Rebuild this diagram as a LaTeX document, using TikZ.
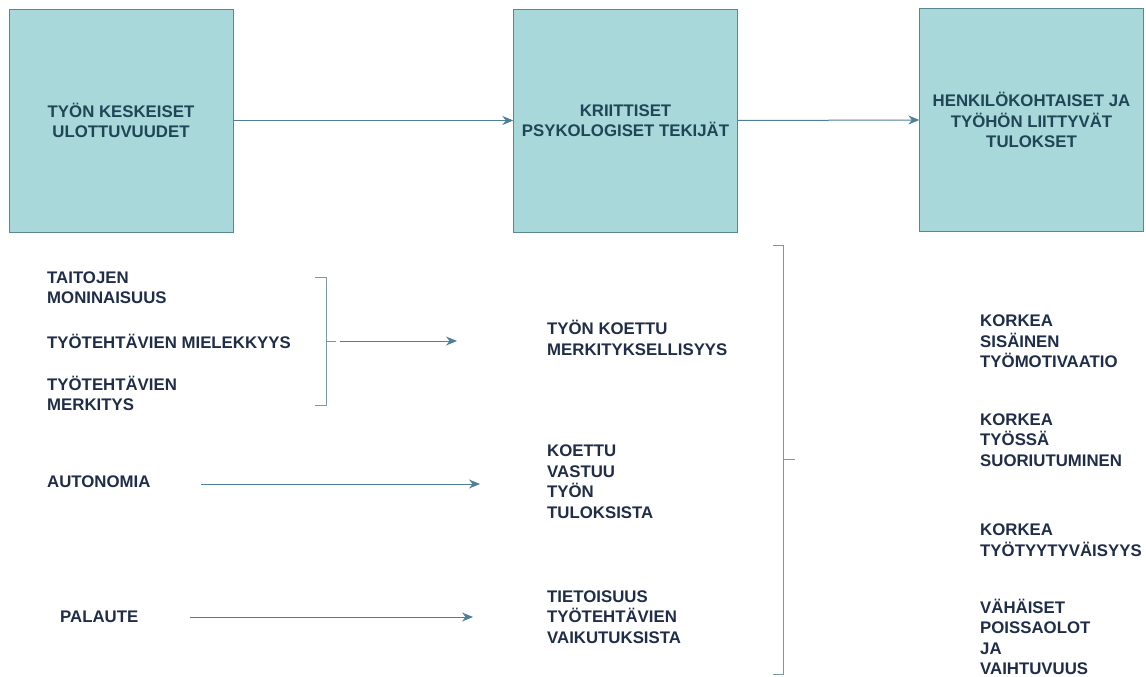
\documentclass[tikz,border=0pt]{standalone}
\usepackage{fontspec}
\setmainfont{Liberation Sans}
\usetikzlibrary{arrows.meta}
\definecolor{boxfill}{HTML}{A8D8DA}
\definecolor{boxline}{HTML}{5A8794}
\definecolor{arrowcol}{HTML}{4F7E97}
\definecolor{bracketcol}{HTML}{7C98A3}
\definecolor{textcol}{HTML}{1F2D48}
\definecolor{boxtext}{HTML}{1F4557}

\begin{document}
\begin{tikzpicture}[x=1pt,y=-1pt,
  box/.style={draw=boxline,fill=boxfill,minimum width=224pt,minimum height=223pt,align=center,text=boxtext,font=\fontsize{16.8}{20.5}\selectfont\bfseries},
  item/.style={anchor=west,inner sep=0pt,align=left,text=textcol,font=\fontsize{16.8}{20.5}\selectfont\bfseries},
  flow/.style={-{Stealth[length=11pt,width=9pt]},arrowcol,line width=1pt},
  bracket/.style={bracketcol,line width=0.9pt}]
\useasboundingbox (0,0) rectangle (1146,677);

% Main boxes
\node[box] (dims) at (121,120.5) {TYÖN KESKEISET\\ULOTTUVUUDET};
\node[box] (krit) at (625.5,120.5) {KRIITTISET\\PSYKOLOGISET TEKIJÄT};
\node[box] (tulos) at (1031.5,120) {HENKILÖKOHTAISET JA\\TYÖHÖN LIITTYVÄT\\TULOKSET};
\draw[flow] (dims.east) -- (krit.west);
\draw[flow] (krit.east) -- (tulos.west);

% Job dimensions
\node[item] (taito) at (47,287.5) {TAITOJEN\\MONINAISUUS};
\node[item] (miel) at (47,341) {TYÖTEHTÄVIEN MIELEKKYYS};
\node[item] (merk) at (47,393.5) {TYÖTEHTÄVIEN\\MERKITYS};
\node[item] (auto) at (47,482) {AUTONOMIA};
\node[item] (pal) at (60,617) {PALAUTE};

% Psychological states
\node[item] (koettu) at (547,338) {TYÖN KOETTU\\MERKITYKSELLISYYS};
\node[item] (vastuu) at (547,481.5) {KOETTU\\VASTUU\\TYÖN\\TULOKSISTA};
\node[item] (tieto) at (547,617) {TIETOISUUS\\TYÖTEHTÄVIEN\\VAIKUTUKSISTA};

% Outcomes
\node[item] (motiv) at (980,341.5) {KORKEA\\SISÄINEN\\TYÖMOTIVAATIO};
\node[item] (suor) at (980,440) {KORKEA\\TYÖSSÄ\\SUORIUTUMINEN};
\node[item] (tyyt) at (980,540) {KORKEA\\TYÖTYYTYVÄISYYS};
\node[item] (pois) at (980,637) {VÄHÄISET\\POISSAOLOT\\JA\\VAIHTUVUUS};

% Brackets
\draw[bracket] (315,277) -- (326,277) -- (326,405) -- (315,405);
\draw[bracket] (326,341) -- (336,341);
\draw[bracket] (773,245) -- (783,245) -- (783,674) -- (773,674);
\draw[bracket] (783,459) -- (795,459);

% Arrows to the states
\coordinate (a1) at (340,341);
\coordinate (a2) at (457,341);
\coordinate (b1) at (201,484);
\coordinate (b2) at (480,484);
\coordinate (c1) at (190,617);
\coordinate (c2) at (473,617);
\draw[flow] (a1) -- (a2);
\draw[flow] (b1) -- (b2);
\draw[flow] (c1) -- (c2);

\end{tikzpicture}
\end{document}
